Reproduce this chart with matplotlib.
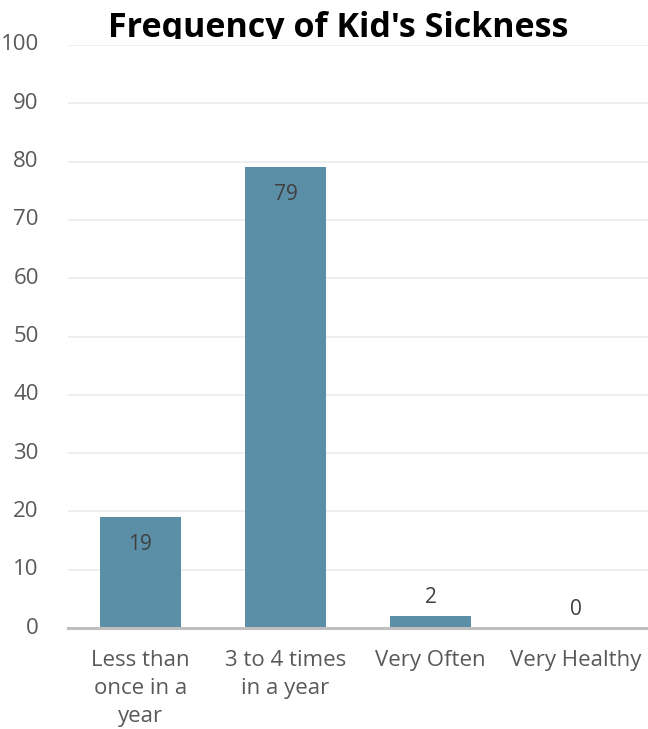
import matplotlib.pyplot as plt
from matplotlib.transforms import Bbox

categories = ["Less than\nonce in a\nyear", "3 to 4 times\nin a year", "Very Often", "Very Healthy"]
counts = [19, 79, 2, 0]
y_ticks = [0, 10, 20, 30, 40, 50, 60, 70, 80, 90, 100]

plt.rcParams['font.family'] = ['Open Sans', 'DejaVu Sans']

fig = plt.figure(figsize=(6.48, 7.29), dpi=100)
W, H = 648, 729
ax = fig.add_axes([68 / W, 1 - 628 / H, 580 / W, (628 - 45) / H])

x = list(range(len(categories)))
bars = ax.bar(x, counts, width=0.555, color="#5b8fa8", zorder=3)

ax.set_xlim(-0.5, 3.5)
ax.set_ylim(0, 100)
ax.set_yticks(y_ticks)
ax.set_xticks(x)
ax.set_xticklabels(categories, fontsize=16, color="#595959", linespacing=1.42)
ax.tick_params(axis="y", labelsize=16, labelcolor="#595959", length=0, pad=21)
ax.tick_params(axis="x", length=0, pad=16)
for lbl in ax.get_yticklabels():
    lbl.set_verticalalignment("center")

ax.grid(axis="y", color="#ebebeb", linewidth=1.2, zorder=0)
for side in ["top", "right", "left"]:
    ax.spines[side].set_visible(False)
ax.spines["bottom"].set_color("#bfbfbf")
ax.spines["bottom"].set_linewidth(2.2)
ax.spines["bottom"].set_zorder(4)

# labels: inside the top of tall bars, above short ones
for xi, v in zip(x, counts):
    if v > 10:
        ax.annotate(str(v), (xi, v), xytext=(0, -12), textcoords="offset points",
                    ha="center", va="top", fontsize=15, color="#404040", zorder=5)
    else:
        ax.annotate(str(v), (xi, v), xytext=(0, 6), textcoords="offset points",
                    ha="center", va="bottom", fontsize=15, color="#404040", zorder=5)

# title sits behind the plot top and gets cut off there
t = fig.text(338 / W, 1 - 37 / H, "Frequency of Kid's Sickness", ha="center", va="baseline",
             fontsize=24.5, fontweight="bold", color="black")
t.set_clip_box(Bbox.from_extents(0, 729 - 39, W, H))
t.set_clip_on(True)

fig.savefig("out.png", dpi=100)
